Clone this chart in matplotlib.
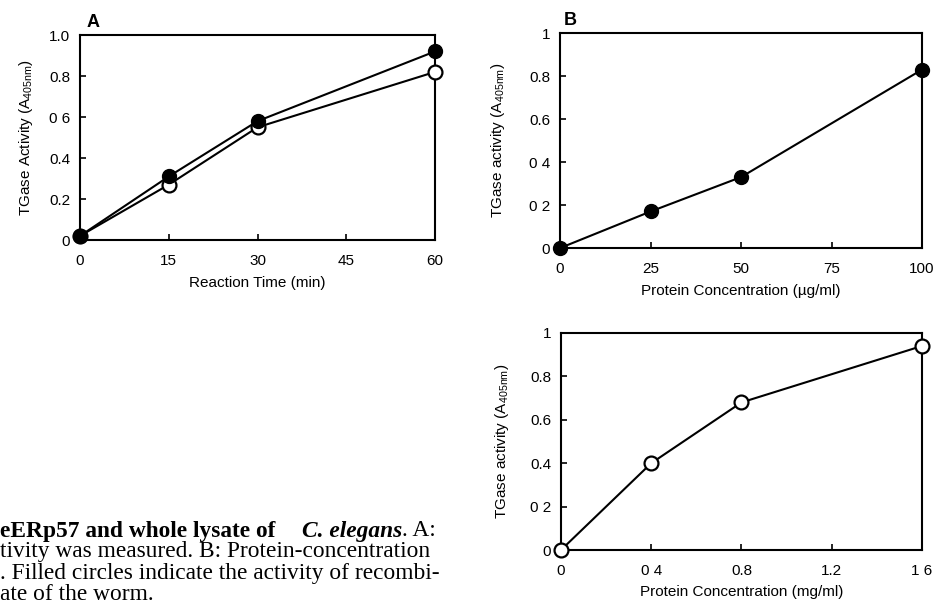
import matplotlib
matplotlib.use("Agg")
import matplotlib.pyplot as plt

plt.rcParams['font.family'] = ['Liberation Sans', 'DejaVu Sans']
plt.rcParams['mathtext.default'] = 'regular'
plt.rcParams['mathtext.fontset'] = 'custom'
plt.rcParams['mathtext.rm'] = 'Liberation Sans'

# Panel A
time_min = [0, 15, 30, 60]
a_filled = [0.02, 0.31, 0.58, 0.92]
a_open = [0.02, 0.27, 0.55, 0.82]
a_xticks = [0, 15, 30, 45, 60]
a_yticks = [0, 0.2, 0.4, 0.6, 0.8, 1.0]
a_ylabels = ["0", "0.2", "0.4", "0 6", "0.8", "1.0"]

# Panel B (top)
conc_ug = [0, 25, 50, 100]
b_filled = [0.0, 0.17, 0.33, 0.83]
b_xticks = [0, 25, 50, 75, 100]
b_yticks = [0, 0.2, 0.4, 0.6, 0.8, 1.0]
b_ylabels = ["0", "0 2", "0 4", "0.6", "0.8", "1"]

# Panel B (bottom)
conc_mg = [0, 0.4, 0.8, 1.6]
c_open = [0.0, 0.40, 0.68, 0.94]
c_xticks = [0, 0.4, 0.8, 1.2, 1.6]
c_xlabels = ["0", "0 4", "0.8", "1.2", "1 6"]
c_yticks = [0, 0.2, 0.4, 0.6, 0.8, 1.0]
c_ylabels = ["0", "0 2", "0.4", "0.6", "0.8", "1"]

fig = plt.figure(figsize=(9.35, 6.05), dpi=100)

def style(ax):
    for s in ax.spines.values():
        s.set_linewidth(1.5)
    ax.tick_params(direction='in', length=4, width=1.2, labelsize=11)
    ax.tick_params(axis='x', pad=10)
    ax.tick_params(axis='y', pad=7)

mk = dict(marker='o', markersize=10, lw=1.5, color='black', clip_on=False, zorder=3)
lab_fs = 11

axA = fig.add_axes([0.0856, 0.6033, 0.3797, 0.3388])
axA.plot(time_min, a_open, markerfacecolor='white', markeredgewidth=1.6, **mk)
axA.plot(time_min, a_filled, markerfacecolor='black', **mk)
axA.set_xlim(0, 60); axA.set_ylim(0, 1.0)
axA.set_xticks(a_xticks)
axA.set_yticks(a_yticks); axA.set_yticklabels(a_ylabels)
axA.set_xlabel("Reaction Time (min)", fontsize=lab_fs, labelpad=6)
axA.set_ylabel("TGase Activity (A$_{405nm}$)", fontsize=lab_fs, labelpad=10)
style(axA)
fig.text(0.099, 0.962, "A", fontsize=13, fontweight='bold', ha='center', va='center')

axB = fig.add_axes([0.599, 0.590, 0.3872, 0.3554])
axB.plot(conc_ug, b_filled, markerfacecolor='black', **mk)
axB.set_xlim(0, 100); axB.set_ylim(0, 1.0)
axB.set_xticks(b_xticks)
axB.set_yticks(b_yticks); axB.set_yticklabels(b_ylabels)
axB.set_xlabel("Protein Concentration (\u00b5g/ml)", fontsize=lab_fs, labelpad=6)
axB.set_ylabel("TGase activity (A$_{405nm}$)", fontsize=lab_fs, labelpad=16)
style(axB)
fig.text(0.610, 0.966, "B", fontsize=13, fontweight='bold', ha='center', va='center')

axC = fig.add_axes([0.600, 0.0909, 0.386, 0.3587])
axC.plot(conc_mg, c_open, markerfacecolor='white', markeredgewidth=1.6, **mk)
axC.set_xlim(0, 1.6); axC.set_ylim(0, 1.0)
axC.set_xticks(c_xticks); axC.set_xticklabels(c_xlabels)
axC.set_yticks(c_yticks); axC.set_yticklabels(c_ylabels)
axC.set_xlabel("Protein Concentration (mg/ml)", fontsize=lab_fs, labelpad=5)
axC.set_ylabel("TGase activity (A$_{405nm}$)", fontsize=lab_fs, labelpad=14)
style(axC)

serif = ['Liberation Serif', 'DejaVu Serif']
fs = 16.8
def y_of(px):
    return 1 - px / 605

fig.text(0.0, y_of(531), "eERp57 and whole lysate of", fontsize=fs, fontweight='bold',
         family=serif, ha='left', va='center')
t2 = fig.text(302/935, y_of(531), "C. elegans", fontsize=fs, fontweight='bold', style='italic',
              family=serif, ha='left', va='center')
fig.canvas.draw()
ext = t2.get_window_extent()
fig.text(ext.x1 / 935, y_of(531), ". A:", fontsize=fs, family=serif, ha='left', va='center')
fig.text(0.0, y_of(552), "tivity was measured. B: Protein-concentration", fontsize=fs,
         family=serif, ha='left', va='center')
fig.text(0.0, y_of(573), ". Filled circles indicate the activity of recombi-", fontsize=fs,
         family=serif, ha='left', va='center')
fig.text(0.0, y_of(594), "ate of the worm.", fontsize=fs, family=serif, ha='left', va='center')

fig.savefig("out.png", dpi=100)
